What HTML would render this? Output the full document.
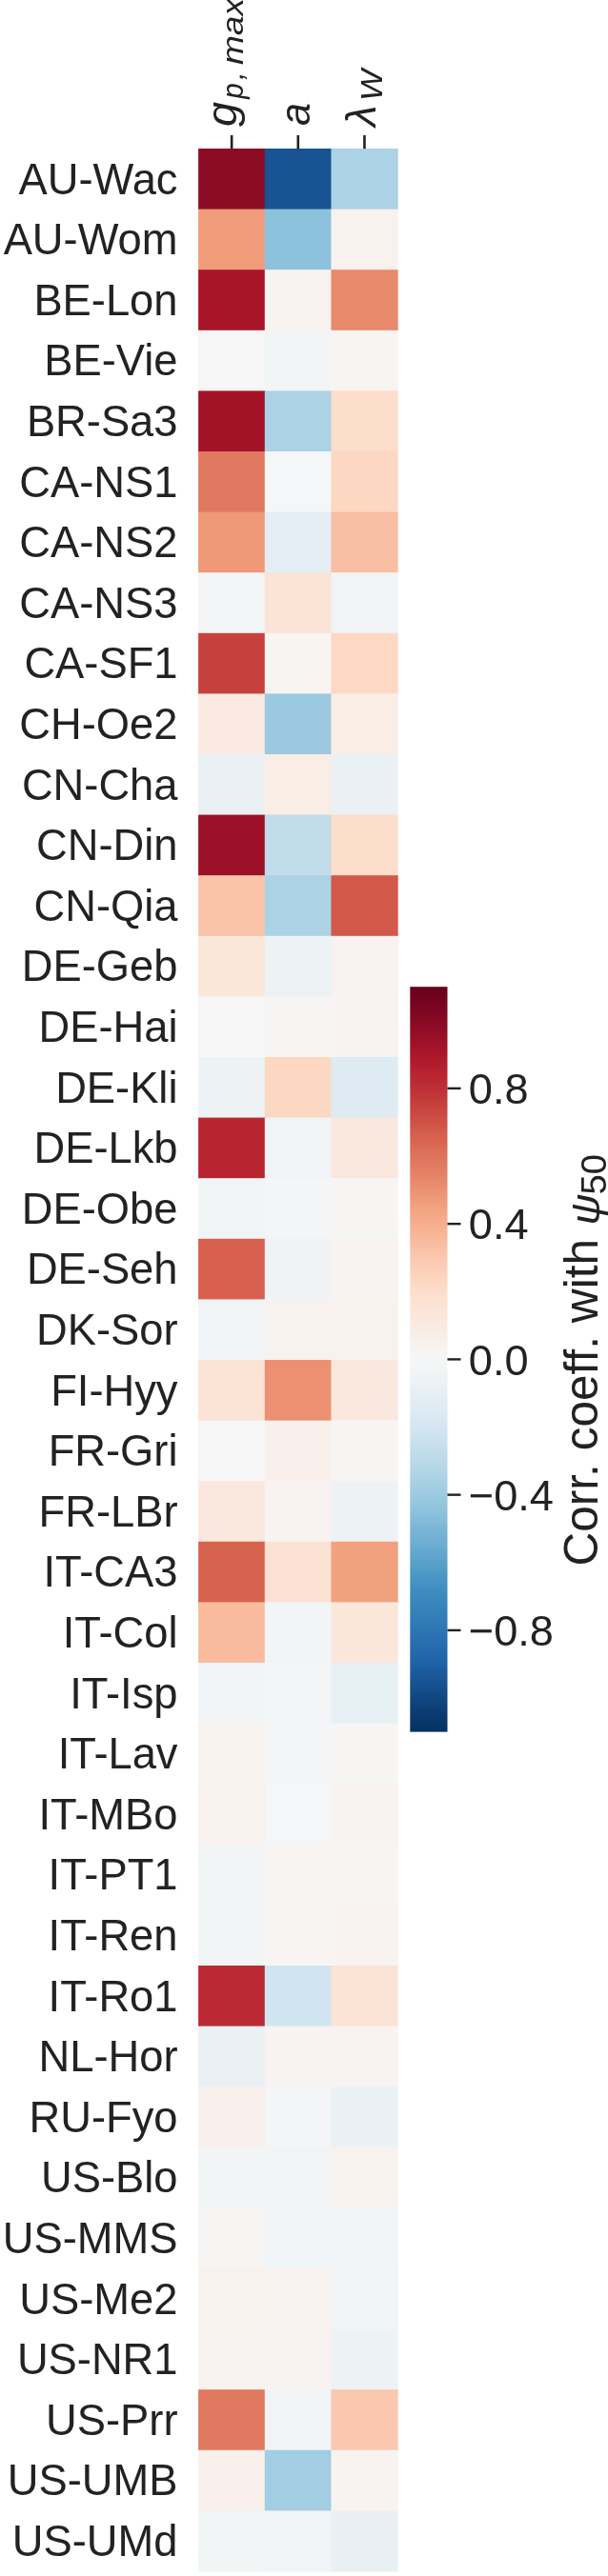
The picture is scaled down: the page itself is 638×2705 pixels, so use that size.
<!DOCTYPE html>
<html><head><meta charset="utf-8"><style>
html,body{margin:0;padding:0;background:#fff;}
body{width:638px;height:2705px;overflow:hidden;}
svg{display:block;will-change:transform;}
text{font-family:"Liberation Sans",sans-serif;fill:#222222;}
</style></head><body>
<svg width="638" height="2705" viewBox="0 0 638 2705">
<defs><linearGradient id="cb" x1="0" y1="0" x2="0" y2="1">
<stop offset="0.0000" stop-color="#67001f"/>
<stop offset="0.0227" stop-color="#760521"/>
<stop offset="0.0455" stop-color="#870a24"/>
<stop offset="0.0682" stop-color="#991027"/>
<stop offset="0.0909" stop-color="#ab162a"/>
<stop offset="0.1136" stop-color="#b72230"/>
<stop offset="0.1364" stop-color="#be3036"/>
<stop offset="0.1591" stop-color="#c6413e"/>
<stop offset="0.1818" stop-color="#cf5246"/>
<stop offset="0.2045" stop-color="#d7634f"/>
<stop offset="0.2273" stop-color="#de735c"/>
<stop offset="0.2500" stop-color="#e48066"/>
<stop offset="0.2727" stop-color="#eb9172"/>
<stop offset="0.2955" stop-color="#f2a17f"/>
<stop offset="0.3182" stop-color="#f6af8e"/>
<stop offset="0.3409" stop-color="#f8bb9e"/>
<stop offset="0.3636" stop-color="#fac8af"/>
<stop offset="0.3864" stop-color="#fcd3bc"/>
<stop offset="0.4091" stop-color="#fdddcb"/>
<stop offset="0.4318" stop-color="#fbe4d6"/>
<stop offset="0.4545" stop-color="#faeae1"/>
<stop offset="0.4773" stop-color="#f8f1ed"/>
<stop offset="0.5000" stop-color="#f7f6f6"/>
<stop offset="0.5227" stop-color="#eff3f5"/>
<stop offset="0.5455" stop-color="#e6eff4"/>
<stop offset="0.5682" stop-color="#ddebf2"/>
<stop offset="0.5909" stop-color="#d4e6f1"/>
<stop offset="0.6136" stop-color="#c7e0ed"/>
<stop offset="0.6364" stop-color="#bbdaea"/>
<stop offset="0.6591" stop-color="#acd2e5"/>
<stop offset="0.6818" stop-color="#9dcbe1"/>
<stop offset="0.7045" stop-color="#8dc2dc"/>
<stop offset="0.7273" stop-color="#7bb6d6"/>
<stop offset="0.7500" stop-color="#6bacd1"/>
<stop offset="0.7727" stop-color="#59a1ca"/>
<stop offset="0.7955" stop-color="#4695c4"/>
<stop offset="0.8182" stop-color="#3c8abe"/>
<stop offset="0.8409" stop-color="#3480b9"/>
<stop offset="0.8636" stop-color="#2c75b4"/>
<stop offset="0.8864" stop-color="#266caf"/>
<stop offset="0.9091" stop-color="#1e61a5"/>
<stop offset="0.9318" stop-color="#185493"/>
<stop offset="0.9545" stop-color="#114781"/>
<stop offset="0.9773" stop-color="#0a3b70"/>
<stop offset="1.0000" stop-color="#053061"/>
</linearGradient></defs>
<rect x="208.10" y="156.00" width="70.27" height="64.20" fill="#8d0c25"/>
<rect x="277.77" y="156.00" width="70.27" height="64.20" fill="#185493"/>
<rect x="347.43" y="156.00" width="70.27" height="64.20" fill="#acd2e5"/>
<rect x="208.10" y="219.60" width="70.27" height="64.20" fill="#f09c7b"/>
<rect x="277.77" y="219.60" width="70.27" height="64.20" fill="#8dc2dc"/>
<rect x="347.43" y="219.60" width="70.27" height="64.20" fill="#f8f1ed"/>
<rect x="208.10" y="283.20" width="70.27" height="64.20" fill="#a81529"/>
<rect x="277.77" y="283.20" width="70.27" height="64.20" fill="#f8f3f0"/>
<rect x="347.43" y="283.20" width="70.27" height="64.20" fill="#e8896c"/>
<rect x="208.10" y="346.80" width="70.27" height="64.20" fill="#f7f6f6"/>
<rect x="277.77" y="346.80" width="70.27" height="64.20" fill="#f2f5f6"/>
<rect x="347.43" y="346.80" width="70.27" height="64.20" fill="#f8f4f2"/>
<rect x="208.10" y="410.40" width="70.27" height="64.20" fill="#a21328"/>
<rect x="277.77" y="410.40" width="70.27" height="64.20" fill="#acd2e5"/>
<rect x="347.43" y="410.40" width="70.27" height="64.20" fill="#fdddcb"/>
<rect x="208.10" y="474.00" width="70.27" height="64.20" fill="#e17860"/>
<rect x="277.77" y="474.00" width="70.27" height="64.20" fill="#f5f6f7"/>
<rect x="347.43" y="474.00" width="70.27" height="64.20" fill="#fcd7c2"/>
<rect x="208.10" y="537.60" width="70.27" height="64.20" fill="#ef9979"/>
<rect x="277.77" y="537.60" width="70.27" height="64.20" fill="#e4eef4"/>
<rect x="347.43" y="537.60" width="70.27" height="64.20" fill="#f8bfa4"/>
<rect x="208.10" y="601.20" width="70.27" height="64.20" fill="#f3f5f6"/>
<rect x="277.77" y="601.20" width="70.27" height="64.20" fill="#fbe4d6"/>
<rect x="347.43" y="601.20" width="70.27" height="64.20" fill="#f0f4f6"/>
<rect x="208.10" y="664.80" width="70.27" height="64.20" fill="#c6413e"/>
<rect x="277.77" y="664.80" width="70.27" height="64.20" fill="#f8f4f2"/>
<rect x="347.43" y="664.80" width="70.27" height="64.20" fill="#fdd9c4"/>
<rect x="208.10" y="728.40" width="70.27" height="64.20" fill="#faeae1"/>
<rect x="277.77" y="728.40" width="70.27" height="64.20" fill="#9bc9e0"/>
<rect x="347.43" y="728.40" width="70.27" height="64.20" fill="#f9ede5"/>
<rect x="208.10" y="792.00" width="70.27" height="64.20" fill="#eaf1f5"/>
<rect x="277.77" y="792.00" width="70.27" height="64.20" fill="#f9ede5"/>
<rect x="347.43" y="792.00" width="70.27" height="64.20" fill="#eaf1f5"/>
<rect x="208.10" y="855.60" width="70.27" height="64.20" fill="#9c1127"/>
<rect x="277.77" y="855.60" width="70.27" height="64.20" fill="#c0dceb"/>
<rect x="347.43" y="855.60" width="70.27" height="64.20" fill="#fdddcb"/>
<rect x="208.10" y="919.20" width="70.27" height="64.20" fill="#f9c4a9"/>
<rect x="277.77" y="919.20" width="70.27" height="64.20" fill="#acd2e5"/>
<rect x="347.43" y="919.20" width="70.27" height="64.20" fill="#d25849"/>
<rect x="208.10" y="982.80" width="70.27" height="64.20" fill="#fbe6da"/>
<rect x="277.77" y="982.80" width="70.27" height="64.20" fill="#edf2f5"/>
<rect x="347.43" y="982.80" width="70.27" height="64.20" fill="#f8f3f0"/>
<rect x="208.10" y="1046.40" width="70.27" height="64.20" fill="#f7f6f6"/>
<rect x="277.77" y="1046.40" width="70.27" height="64.20" fill="#f7f5f4"/>
<rect x="347.43" y="1046.40" width="70.27" height="64.20" fill="#f8f3f0"/>
<rect x="208.10" y="1110.00" width="70.27" height="64.20" fill="#edf2f5"/>
<rect x="277.77" y="1110.00" width="70.27" height="64.20" fill="#fcd7c2"/>
<rect x="347.43" y="1110.00" width="70.27" height="64.20" fill="#deebf2"/>
<rect x="208.10" y="1173.60" width="70.27" height="64.20" fill="#b82531"/>
<rect x="277.77" y="1173.60" width="70.27" height="64.20" fill="#f0f4f6"/>
<rect x="347.43" y="1173.60" width="70.27" height="64.20" fill="#fae8de"/>
<rect x="208.10" y="1237.20" width="70.27" height="64.20" fill="#f2f5f6"/>
<rect x="277.77" y="1237.20" width="70.27" height="64.20" fill="#f3f5f6"/>
<rect x="347.43" y="1237.20" width="70.27" height="64.20" fill="#f7f5f4"/>
<rect x="208.10" y="1300.80" width="70.27" height="64.20" fill="#d6604d"/>
<rect x="277.77" y="1300.80" width="70.27" height="64.20" fill="#eff3f5"/>
<rect x="347.43" y="1300.80" width="70.27" height="64.20" fill="#f8f3f0"/>
<rect x="208.10" y="1364.40" width="70.27" height="64.20" fill="#f0f4f6"/>
<rect x="277.77" y="1364.40" width="70.27" height="64.20" fill="#f8f2ef"/>
<rect x="347.43" y="1364.40" width="70.27" height="64.20" fill="#f8f1ed"/>
<rect x="208.10" y="1428.00" width="70.27" height="64.20" fill="#fbe4d6"/>
<rect x="277.77" y="1428.00" width="70.27" height="64.20" fill="#eb9172"/>
<rect x="347.43" y="1428.00" width="70.27" height="64.20" fill="#fae8de"/>
<rect x="208.10" y="1491.60" width="70.27" height="64.20" fill="#f7f6f6"/>
<rect x="277.77" y="1491.60" width="70.27" height="64.20" fill="#f9f0eb"/>
<rect x="347.43" y="1491.60" width="70.27" height="64.20" fill="#f7f5f4"/>
<rect x="208.10" y="1555.20" width="70.27" height="64.20" fill="#fae8de"/>
<rect x="277.77" y="1555.20" width="70.27" height="64.20" fill="#f8f3f0"/>
<rect x="347.43" y="1555.20" width="70.27" height="64.20" fill="#edf2f5"/>
<rect x="208.10" y="1618.80" width="70.27" height="64.20" fill="#d7634f"/>
<rect x="277.77" y="1618.80" width="70.27" height="64.20" fill="#fce2d2"/>
<rect x="347.43" y="1618.80" width="70.27" height="64.20" fill="#f2a17f"/>
<rect x="208.10" y="1682.40" width="70.27" height="64.20" fill="#f8bb9e"/>
<rect x="277.77" y="1682.40" width="70.27" height="64.20" fill="#f2f5f6"/>
<rect x="347.43" y="1682.40" width="70.27" height="64.20" fill="#fbe6da"/>
<rect x="208.10" y="1746.00" width="70.27" height="64.20" fill="#f0f4f6"/>
<rect x="277.77" y="1746.00" width="70.27" height="64.20" fill="#f3f5f6"/>
<rect x="347.43" y="1746.00" width="70.27" height="64.20" fill="#e7f0f4"/>
<rect x="208.10" y="1809.60" width="70.27" height="64.20" fill="#f8f2ef"/>
<rect x="277.77" y="1809.60" width="70.27" height="64.20" fill="#f3f5f6"/>
<rect x="347.43" y="1809.60" width="70.27" height="64.20" fill="#f7f5f4"/>
<rect x="208.10" y="1873.20" width="70.27" height="64.20" fill="#f8f1ed"/>
<rect x="277.77" y="1873.20" width="70.27" height="64.20" fill="#f5f6f7"/>
<rect x="347.43" y="1873.20" width="70.27" height="64.20" fill="#f8f3f0"/>
<rect x="208.10" y="1936.80" width="70.27" height="64.20" fill="#f2f5f6"/>
<rect x="277.77" y="1936.80" width="70.27" height="64.20" fill="#f8f4f2"/>
<rect x="347.43" y="1936.80" width="70.27" height="64.20" fill="#f7f5f4"/>
<rect x="208.10" y="2000.40" width="70.27" height="64.20" fill="#f2f5f6"/>
<rect x="277.77" y="2000.40" width="70.27" height="64.20" fill="#f8f4f2"/>
<rect x="347.43" y="2000.40" width="70.27" height="64.20" fill="#f8f3f0"/>
<rect x="208.10" y="2064.00" width="70.27" height="64.20" fill="#bb2a34"/>
<rect x="277.77" y="2064.00" width="70.27" height="64.20" fill="#d1e5f0"/>
<rect x="347.43" y="2064.00" width="70.27" height="64.20" fill="#fbe4d6"/>
<rect x="208.10" y="2127.60" width="70.27" height="64.20" fill="#eaf1f5"/>
<rect x="277.77" y="2127.60" width="70.27" height="64.20" fill="#f8f3f0"/>
<rect x="347.43" y="2127.60" width="70.27" height="64.20" fill="#f8f3f0"/>
<rect x="208.10" y="2191.20" width="70.27" height="64.20" fill="#f9f0eb"/>
<rect x="277.77" y="2191.20" width="70.27" height="64.20" fill="#f3f5f6"/>
<rect x="347.43" y="2191.20" width="70.27" height="64.20" fill="#eaf1f5"/>
<rect x="208.10" y="2254.80" width="70.27" height="64.20" fill="#f2f5f6"/>
<rect x="277.77" y="2254.80" width="70.27" height="64.20" fill="#f0f4f6"/>
<rect x="347.43" y="2254.80" width="70.27" height="64.20" fill="#f8f2ef"/>
<rect x="208.10" y="2318.40" width="70.27" height="64.20" fill="#f7f5f4"/>
<rect x="277.77" y="2318.40" width="70.27" height="64.20" fill="#f0f4f6"/>
<rect x="347.43" y="2318.40" width="70.27" height="64.20" fill="#f0f4f6"/>
<rect x="208.10" y="2382.00" width="70.27" height="64.20" fill="#f8f2ef"/>
<rect x="277.77" y="2382.00" width="70.27" height="64.20" fill="#f8f3f0"/>
<rect x="347.43" y="2382.00" width="70.27" height="64.20" fill="#f2f5f6"/>
<rect x="208.10" y="2445.60" width="70.27" height="64.20" fill="#f8f3f0"/>
<rect x="277.77" y="2445.60" width="70.27" height="64.20" fill="#f8f3f0"/>
<rect x="347.43" y="2445.60" width="70.27" height="64.20" fill="#edf2f5"/>
<rect x="208.10" y="2509.20" width="70.27" height="64.20" fill="#e17860"/>
<rect x="277.77" y="2509.20" width="70.27" height="64.20" fill="#f0f4f6"/>
<rect x="347.43" y="2509.20" width="70.27" height="64.20" fill="#fac8af"/>
<rect x="208.10" y="2572.80" width="70.27" height="64.20" fill="#f9f0eb"/>
<rect x="277.77" y="2572.80" width="70.27" height="64.20" fill="#a2cde3"/>
<rect x="347.43" y="2572.80" width="70.27" height="64.20" fill="#f8f3f0"/>
<rect x="208.10" y="2636.40" width="70.27" height="64.20" fill="#f2f5f6"/>
<rect x="277.77" y="2636.40" width="70.27" height="64.20" fill="#f0f4f6"/>
<rect x="347.43" y="2636.40" width="70.27" height="64.20" fill="#e9f0f4"/>
<text x="186.5" y="203.62" font-size="45.3" text-anchor="end">AU-Wac</text>
<text x="186.5" y="267.22" font-size="45.3" text-anchor="end">AU-Wom</text>
<text x="186.5" y="330.82" font-size="45.3" text-anchor="end">BE-Lon</text>
<text x="186.5" y="394.42" font-size="45.3" text-anchor="end">BE-Vie</text>
<text x="186.5" y="458.02" font-size="45.3" text-anchor="end">BR-Sa3</text>
<text x="186.5" y="521.62" font-size="45.3" text-anchor="end">CA-NS1</text>
<text x="186.5" y="585.22" font-size="45.3" text-anchor="end">CA-NS2</text>
<text x="186.5" y="648.82" font-size="45.3" text-anchor="end">CA-NS3</text>
<text x="186.5" y="712.42" font-size="45.3" text-anchor="end">CA-SF1</text>
<text x="186.5" y="776.02" font-size="45.3" text-anchor="end">CH-Oe2</text>
<text x="186.5" y="839.62" font-size="45.3" text-anchor="end">CN-Cha</text>
<text x="186.5" y="903.22" font-size="45.3" text-anchor="end">CN-Din</text>
<text x="186.5" y="966.82" font-size="45.3" text-anchor="end">CN-Qia</text>
<text x="186.5" y="1030.42" font-size="45.3" text-anchor="end">DE-Geb</text>
<text x="186.5" y="1094.02" font-size="45.3" text-anchor="end">DE-Hai</text>
<text x="186.5" y="1157.62" font-size="45.3" text-anchor="end">DE-Kli</text>
<text x="186.5" y="1221.22" font-size="45.3" text-anchor="end">DE-Lkb</text>
<text x="186.5" y="1284.82" font-size="45.3" text-anchor="end">DE-Obe</text>
<text x="186.5" y="1348.42" font-size="45.3" text-anchor="end">DE-Seh</text>
<text x="186.5" y="1412.02" font-size="45.3" text-anchor="end">DK-Sor</text>
<text x="186.5" y="1475.62" font-size="45.3" text-anchor="end">FI-Hyy</text>
<text x="186.5" y="1539.22" font-size="45.3" text-anchor="end">FR-Gri</text>
<text x="186.5" y="1602.82" font-size="45.3" text-anchor="end">FR-LBr</text>
<text x="186.5" y="1666.42" font-size="45.3" text-anchor="end">IT-CA3</text>
<text x="186.5" y="1730.02" font-size="45.3" text-anchor="end">IT-Col</text>
<text x="186.5" y="1793.62" font-size="45.3" text-anchor="end">IT-Isp</text>
<text x="186.5" y="1857.22" font-size="45.3" text-anchor="end">IT-Lav</text>
<text x="186.5" y="1920.82" font-size="45.3" text-anchor="end">IT-MBo</text>
<text x="186.5" y="1984.42" font-size="45.3" text-anchor="end">IT-PT1</text>
<text x="186.5" y="2048.02" font-size="45.3" text-anchor="end">IT-Ren</text>
<text x="186.5" y="2111.62" font-size="45.3" text-anchor="end">IT-Ro1</text>
<text x="186.5" y="2175.22" font-size="45.3" text-anchor="end">NL-Hor</text>
<text x="186.5" y="2238.82" font-size="45.3" text-anchor="end">RU-Fyo</text>
<text x="186.5" y="2302.42" font-size="45.3" text-anchor="end">US-Blo</text>
<text x="186.5" y="2366.02" font-size="45.3" text-anchor="end">US-MMS</text>
<text x="186.5" y="2429.62" font-size="45.3" text-anchor="end">US-Me2</text>
<text x="186.5" y="2493.22" font-size="45.3" text-anchor="end">US-NR1</text>
<text x="186.5" y="2556.82" font-size="45.3" text-anchor="end">US-Prr</text>
<text x="186.5" y="2620.42" font-size="45.3" text-anchor="end">US-UMB</text>
<text x="186.5" y="2684.02" font-size="45.3" text-anchor="end">US-UMd</text>
<rect x="241.83" y="142" width="2.6" height="14.2" fill="#222222"/>
<rect x="311.50" y="142" width="2.6" height="14.2" fill="#222222"/>
<rect x="381.17" y="142" width="2.6" height="14.2" fill="#222222"/>
<g font-style="italic">
<text transform="translate(247.5,133) rotate(-90)" font-size="44.5" textLength="26" lengthAdjust="spacingAndGlyphs">g</text>
<text transform="translate(254.5,103.8) rotate(-90)" font-size="31" textLength="16.5" lengthAdjust="spacingAndGlyphs">p</text>
<text transform="translate(254.5,84) rotate(-90)" font-size="31">,</text>
<text transform="translate(254.5,68) rotate(-90)" font-size="31" textLength="70" lengthAdjust="spacingAndGlyphs">max</text>
<text transform="translate(324.5,132) rotate(-90)" font-size="44.5" textLength="24" lengthAdjust="spacingAndGlyphs">a</text>
<text transform="translate(394,133) rotate(-90)" font-size="44.5" textLength="22.5" lengthAdjust="spacingAndGlyphs">λ</text>
<text transform="translate(400.5,106) rotate(-90)" font-size="31" textLength="33" lengthAdjust="spacingAndGlyphs">W</text>
</g>
<rect x="430.30" y="1036.20" width="39.20" height="782.40" fill="url(#cb)"/>
<rect x="469.5" y="1141.69" width="14" height="2.4" fill="#222222"/>
<text x="491.8" y="1159.07" font-size="45.2">0.8</text>
<rect x="469.5" y="1283.95" width="14" height="2.4" fill="#222222"/>
<text x="491.8" y="1301.33" font-size="45.2">0.4</text>
<rect x="469.5" y="1426.20" width="14" height="2.4" fill="#222222"/>
<text x="491.8" y="1443.58" font-size="45.2">0.0</text>
<rect x="469.5" y="1568.45" width="14" height="2.4" fill="#222222"/>
<text x="491.8" y="1585.84" font-size="45.2">−0.4</text>
<rect x="469.5" y="1710.71" width="14" height="2.4" fill="#222222"/>
<text x="491.8" y="1728.09" font-size="45.2">−0.8</text>
<text transform="translate(627.3,1644.6) rotate(-90)" font-size="49.6">Corr. coeff. with</text>
<text transform="translate(628.6,1286.5) rotate(-90)" font-size="43" font-style="italic" textLength="33" lengthAdjust="spacingAndGlyphs">ψ</text>
<text transform="translate(635.8,1254.5) rotate(-90)" font-size="37" textLength="42.5" lengthAdjust="spacingAndGlyphs">50</text>
</svg></body></html>
